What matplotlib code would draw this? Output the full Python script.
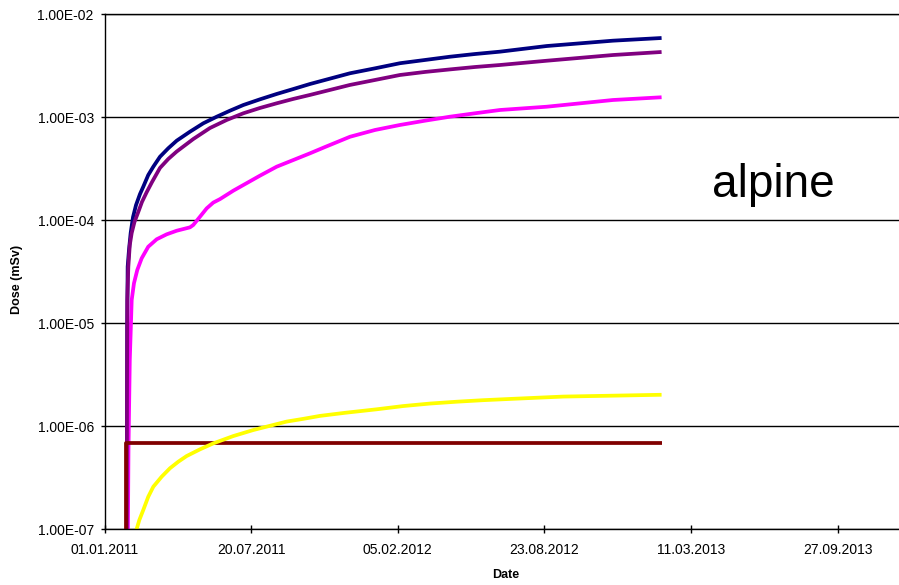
import matplotlib
matplotlib.use("Agg")
import matplotlib.pyplot as plt
import matplotlib.dates as mdates
import datetime as dt

plt.rcParams['font.family'] = ['Liberation Sans', 'DejaVu Sans']

# ---- data (days after series start, dose in mSv) ----
series_start = "2011-01-31"

navy_days = [0, 0.95, 1.6, 3.4, 5.7, 8.9, 13.0, 18.4, 22.9, 29.7, 36.6, 45.7, 57.0,
             68.5, 86.6, 104.8, 123.1, 141.2, 159.4, 182.1, 204.9, 227.6, 250.4,
             304.9, 339.0, 373.1, 407.2, 441.3, 475.4, 509.5, 573.3, 663.7, 730]
navy_dose = [1e-9, 8.6e-6, 3.53e-5, 5.13e-5, 7.5e-5, 1.07e-4, 1.40e-4, 1.79e-4,
             2.11e-4, 2.74e-4, 3.30e-4, 4.12e-4, 4.98e-4, 5.90e-4, 7.21e-4, 8.70e-4,
             1.008e-3, 1.153e-3, 1.309e-3, 1.486e-3, 1.675e-3, 1.871e-3, 2.094e-3,
             2.66e-3, 2.97e-3, 3.33e-3, 3.58e-3, 3.85e-3, 4.09e-3, 4.31e-3, 4.89e-3,
             5.51e-3, 5.85e-3]

purple_days = [0, 0.7, 1.1, 2.5, 4.5, 7.1, 10.9, 16.1, 21.1, 27.6, 34.8, 45.7, 57.0,
               68.5, 91.1, 113.9, 136.7, 159.4, 182.1, 204.9, 227.6, 250.4, 304.9,
               339.0, 373.1, 407.2, 441.3, 475.4, 509.5, 573.3, 663.7, 730]
purple_dose = [1e-9, 1.80e-6, 1.68e-5, 3.53e-5, 5.74e-5, 7.5e-5, 9.6e-5, 1.20e-4,
               1.50e-4, 1.87e-4, 2.34e-4, 3.21e-4, 3.92e-4, 4.63e-4, 6.12e-4, 7.83e-4,
               9.37e-4, 1.088e-3, 1.225e-3, 1.36e-3, 1.50e-3, 1.64e-3, 2.05e-3,
               2.29e-3, 2.56e-3, 2.74e-3, 2.90e-3, 3.06e-3, 3.20e-3, 3.52e-3, 4.00e-3,
               4.28e-3]

magenta_days = [0, 2.7, 4.5, 7.1, 10.2, 14.7, 20.7, 29.7, 41.2, 54.8, 68.5, 86.6,
                91.1, 100.3, 109.4, 118.4, 127.6, 145.7, 159.4, 182.1, 204.9, 227.6,
                250.4, 270.8, 304.9, 339.0, 373.1, 407.2, 441.3, 475.4, 509.5, 573.3,
                663.7, 730]
magenta_dose = [1e-9, 5.9e-7, 4.4e-6, 1.68e-5, 2.44e-5, 3.28e-5, 4.26e-5, 5.52e-5,
                6.52e-5, 7.28e-5, 7.89e-5, 8.51e-5, 8.97e-5, 1.08e-4, 1.30e-4,
                1.48e-4, 1.60e-4, 1.93e-4, 2.19e-4, 2.70e-4, 3.30e-4, 3.83e-4,
                4.45e-4, 5.12e-4, 6.44e-4, 7.49e-4, 8.38e-4, 9.22e-4, 1.008e-3,
                1.088e-3, 1.171e-3, 1.26e-3, 1.464e-3, 1.556e-3]

yellow_days = [0, 4, 8, 13.9, 17.5, 22.9, 29.7, 36.6, 48.0, 59.3, 70.7, 82.1, 100.3,
               118.4, 145.7, 173.0, 195.8, 218.6, 241.3, 264.0, 298.1, 341.3, 377.6,
               414.0, 450.5, 486.7, 523.2, 559.6, 595.9, 664.1, 730]
yellow_dose = [1e-9, 2.0e-8, 6.0e-8, 1.007e-7, 1.23e-7, 1.54e-7, 2.07e-7, 2.59e-7,
               3.24e-7, 3.91e-7, 4.53e-7, 5.14e-7, 5.97e-7, 6.82e-7, 8.03e-7, 9.19e-7,
               1.01e-6, 1.11e-6, 1.18e-6, 1.26e-6, 1.35e-6, 1.46e-6, 1.57e-6, 1.66e-6,
               1.73e-6, 1.79e-6, 1.84e-6, 1.89e-6, 1.94e-6, 1.98e-6, 2.02e-6]

darkred_days = [0, 0, 730]
darkred_dose = [1e-9, 6.87e-7, 6.87e-7]

axis_start = "2011-01-01"
tick_step_days = 200
n_ticks = 6
y_ticks = [1e-7, 1e-6, 1e-5, 1e-4, 1e-3, 1e-2]
y_tick_labels = ["1.00E-07", "1.00E-06", "1.00E-05", "1.00E-04", "1.00E-03", "1.00E-02"]

# ---- figure ----
W, H = 899, 585
fig = plt.figure(figsize=(W / 100, H / 100), dpi=100)
left_px, right_px, top_px, bot_px = 104.5, 899, 14, 529.3
ax = fig.add_axes([left_px / W, 1 - bot_px / H, (right_px - left_px) / W,
                   (bot_px - top_px) / H])

s0 = dt.datetime.strptime(series_start, "%Y-%m-%d")
a0 = dt.datetime.strptime(axis_start, "%Y-%m-%d")

def to_dates(days):
    return [s0 + dt.timedelta(days=float(d)) for d in days]

series = [
    (navy_days, navy_dose, "#000080", 2.0),
    (magenta_days, magenta_dose, "#FF00FF", 2.1),
    (purple_days, purple_dose, "#800080", 2.2),
    (darkred_days, darkred_dose, "#800000", 2.3),
    (yellow_days, yellow_dose, "#FFFF00", 2.4),
]
for d, v, c, z in series:
    ax.plot(to_dates(d), v, color=c, lw=2.7, zorder=z, solid_capstyle='butt',
            solid_joinstyle='round')

ax.set_yscale('log')
ax.set_ylim(1e-7, 1e-2)
ax.set_yticks(y_ticks)
ax.set_yticklabels(y_tick_labels)
ax.yaxis.set_minor_locator(matplotlib.ticker.NullLocator())

px_per_day = 0.733
xmax_days = (right_px - left_px) / px_per_day
ax.set_xlim(a0, a0 + dt.timedelta(days=xmax_days))
ax.set_xticks([a0 + dt.timedelta(days=tick_step_days * k) for k in range(n_ticks)])
ax.xaxis.set_major_formatter(mdates.DateFormatter('%d.%m.%Y'))
ax.xaxis.set_minor_locator(matplotlib.ticker.NullLocator())

ax.grid(axis='y', which='major', color='black', lw=1.0)
ax.set_axisbelow(True)
for sp in ['left', 'bottom', 'top']:
    ax.spines[sp].set_color('black')
    ax.spines[sp].set_linewidth(1.0)
ax.spines['right'].set_visible(False)

ax.tick_params(axis='y', direction='out', length=3.2, width=1, pad=4.5,
               labelsize=10, colors='black')
ax.tick_params(axis='x', direction='inout', length=6, width=1, pad=7,
               labelsize=10, colors='black')

fig.text(17 / W, 1 - 279 / H, "Dose (mSv)", rotation=90, ha='center', va='center',
         fontsize=9, fontweight='bold')
fig.text(506 / W, 1 - 575 / H, "Date", ha='center', va='center',
         fontsize=9, fontweight='bold')
fig.text(773 / W, 1 - 197 / H, "alpine", ha='center', va='baseline', fontsize=33)

fig.savefig("out.png", dpi=100)
